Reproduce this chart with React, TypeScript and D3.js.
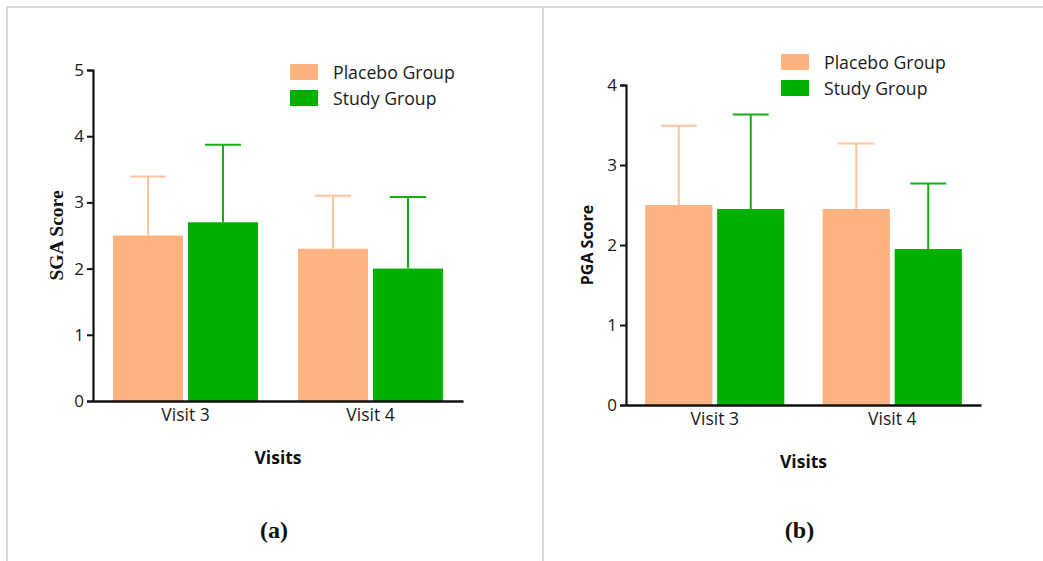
import * as React from 'react';
import * as d3 from 'd3';

const WIDTH = 1043;
const HEIGHT = 561;

const visits = ['Visit 3', 'Visit 4'];
const groups = ['Placebo Group', 'Study Group'];

// SGA score: means and SD (upper error bar)
const sgaPlacebo = [2.5, 2.3];
const sgaStudy = [2.7, 2.0];
const sgaPlaceboSd = [0.89, 0.8];
const sgaStudySd = [1.17, 1.08];

// PGA score
const pgaPlacebo = [2.5, 2.45];
const pgaStudy = [2.45, 1.95];
const pgaPlaceboSd = [0.99, 0.82];
const pgaStudySd = [1.18, 0.82];

const sgaTicks = [0, 1, 2, 3, 4, 5];
const pgaTicks = [0, 1, 2, 3, 4];

const FILL = ['#FFB380', '#00B000'];
const ERR = ['#FFC39E', '#13B013'];
const SANS = '"Open Sans", sans-serif';
const SERIF = '"Liberation Serif", "Times New Roman", serif';

type PanelCfg = {
  means: number[][];
  sds: number[][];
  ticks: number[];
  x0: number;
  x1: number;
  yTop: number;
  yBottom: number;
  ylabel: string;
  ylabelFont: string;
  ylabelSize: number;
  ylabelX: number;
  legendX: number;
  legendY: number;
  letter: string;
};

const panels: PanelCfg[] = [
  {
    means: [sgaPlacebo, sgaStudy],
    sds: [sgaPlaceboSd, sgaStudySd],
    ticks: sgaTicks,
    x0: 93,
    x1: 463,
    yTop: 70,
    yBottom: 401,
    ylabel: 'SGA Score',
    ylabelFont: SERIF,
    ylabelSize: 19.5,
    ylabelX: 63,
    legendX: 290,
    legendY: 64,
    letter: '(a)',
  },
  {
    means: [pgaPlacebo, pgaStudy],
    sds: [pgaPlaceboSd, pgaStudySd],
    ticks: pgaTicks,
    x0: 626,
    x1: 981,
    yTop: 85,
    yBottom: 405,
    ylabel: 'PGA Score',
    ylabelFont: SANS,
    ylabelSize: 16,
    ylabelX: 593,
    legendX: 781,
    legendY: 54,
    letter: '(b)',
  },
];

class App extends React.Component {
  svgRef = React.createRef<SVGSVGElement>();

  componentDidMount() {
    const svg = d3.select(this.svgRef.current);
    svg.selectAll('*').remove();

    // frame lines
    const frame = svg.append('g').attr('stroke', '#d9d9d9').attr('stroke-width', 2);
    frame.append('line').attr('x1', 6).attr('x2', WIDTH).attr('y1', 7).attr('y2', 7);
    frame.append('line').attr('x1', 7).attr('x2', 7).attr('y1', 6).attr('y2', HEIGHT);
    frame.append('line').attr('x1', 543).attr('x2', 543).attr('y1', 6).attr('y2', HEIGHT);

    panels.forEach(p => this.drawPanel(svg, p));
  }

  drawPanel = (svg: any, p: PanelCfg) => {
    const maxV = d3.max(p.ticks) as number;
    const y = d3.scaleLinear().domain([0, maxV]).range([p.yBottom, p.yTop]);
    const x = d3
      .scaleBand<string>()
      .domain(visits)
      .range([p.x0, p.x1])
      .paddingInner(0.216)
      .paddingOuter(0.108);
    const xs = d3
      .scaleBand<string>()
      .domain(groups)
      .range([0, x.bandwidth()])
      .paddingInner(0.067);

    const g = svg.append('g');

    const rows = visits.flatMap((v, i) =>
      groups.map((grp, k) => ({ v, grp, k, mean: p.means[k][i], sd: p.sds[k][i] })),
    );

    // error bars (upper only)
    rows.forEach(r => {
      const cx = (x(r.v) as number) + (xs(r.grp) as number) + xs.bandwidth() / 2;
      const eg = g.append('g').attr('stroke', ERR[r.k]).attr('stroke-width', 2);
      eg.append('line')
        .attr('x1', cx)
        .attr('x2', cx)
        .attr('y1', y(r.mean))
        .attr('y2', y(r.mean + r.sd));
      eg.append('line')
        .attr('x1', cx - 18)
        .attr('x2', cx + 18)
        .attr('y1', y(r.mean + r.sd))
        .attr('y2', y(r.mean + r.sd));
    });

    g.selectAll('rect.bar')
      .data(rows)
      .enter()
      .append('rect')
      .attr('class', 'bar')
      .attr('x', (d: any) => (x(d.v) as number) + (xs(d.grp) as number))
      .attr('y', (d: any) => y(d.mean))
      .attr('width', xs.bandwidth())
      .attr('height', (d: any) => y(0) - y(d.mean))
      .attr('fill', (d: any) => FILL[d.k]);

    // y axis
    const ya = g
      .append('g')
      .attr('transform', `translate(${p.x0},0)`)
      .call(d3.axisLeft(y).tickValues(p.ticks).tickFormat(d3.format('d')).tickSize(6).tickPadding(3));
    ya.select('.domain').attr('stroke', '#111').attr('stroke-width', 2.2);
    ya.selectAll('.tick line').attr('stroke', '#111').attr('stroke-width', 2);
    ya.selectAll('.tick text')
      .attr('font-family', SANS)
      .attr('font-size', 17)
      .attr('fill', '#1a1a1a');

    // x axis baseline
    const xa = g
      .append('g')
      .attr('transform', `translate(0,${p.yBottom})`)
      .call(d3.axisBottom(x).tickSize(0).tickPadding(8));
    xa.select('.domain').attr('stroke', '#111').attr('stroke-width', 2.5);
    xa.selectAll('.tick text')
      .attr('font-family', SANS)
      .attr('font-size', 17.5)
      .attr('fill', '#1a1a1a');

    const midX = (p.x0 + p.x1) / 2;

    g.append('text')
      .attr('transform', `translate(${p.ylabelX},${(p.yTop + p.yBottom) / 2}) rotate(-90)`)
      .attr('text-anchor', 'middle')
      .attr('font-family', p.ylabelFont)
      .attr('font-weight', 'bold')
      .attr('font-size', p.ylabelSize)
      .attr('fill', '#111')
      .text(p.ylabel);

    g.append('text')
      .attr('x', midX)
      .attr('y', p.yBottom + 63)
      .attr('text-anchor', 'middle')
      .attr('font-family', SANS)
      .attr('font-weight', 'bold')
      .attr('font-size', 17.5)
      .attr('fill', '#111')
      .text('Visits');

    g.append('text')
      .attr('x', midX - 4)
      .attr('y', 538)
      .attr('text-anchor', 'middle')
      .attr('font-family', SERIF)
      .attr('font-weight', 'bold')
      .attr('font-size', 24)
      .attr('fill', '#111')
      .text(p.letter);

    // legend
    const lg = g.append('g').attr('transform', `translate(${p.legendX},${p.legendY})`);
    groups.forEach((grp, k) => {
      lg.append('rect')
        .attr('x', 0)
        .attr('y', k * 26)
        .attr('width', 28)
        .attr('height', 16)
        .attr('fill', FILL[k]);
      lg.append('text')
        .attr('x', 43)
        .attr('y', k * 26 + 15)
        .attr('font-family', SANS)
        .attr('font-size', 17.7)
        .attr('fill', '#1a1a1a')
        .text(grp);
    });
  };

  render() {
    return (
      <svg
        ref={this.svgRef}
        width={WIDTH}
        height={HEIGHT}
        style={{ position: 'absolute', left: 0, top: 0, background: '#fff' }}
      />
    );
  }
}

export default App;
